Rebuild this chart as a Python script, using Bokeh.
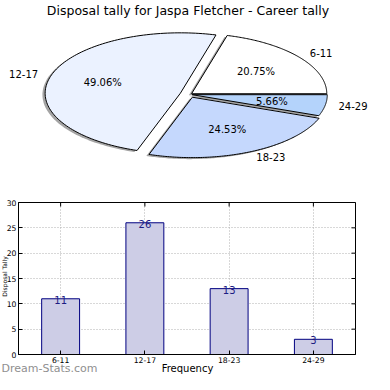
import numpy as np
from bokeh.plotting import figure
from bokeh.models import Range1d, Label, FixedTicker, ColumnDataSource
from bokeh.layouts import column
from bokeh.embed import file_html
from bokeh.resources import INLINE
from bokeh.core.properties import value

# ---------------- data ----------------
categories = ["6-11", "12-17", "18-23", "24-29"]
counts = [11, 26, 13, 3]
pie_colors = ["#ffffff", "#ebf2ff", "#c5d8fd", "#b4d3fb"]
explode = [0.02, 0.07, 0.05, 0.02]
title_text = "Disposal tally for Jaspa Fletcher - Career tally"
y_ticks = [0, 5, 10, 15, 20, 25, 30]
watermark = "Dream-Stats.com"
x_label = "Frequency"
y_label = "Disposal Tally"

# ---------------- layout constants ----------------
S = 374 / 390.0           # scale from the 390px reference to the 374px canvas
W = 374
PIE_H = 192
BAR_H = W - PIE_H
OV_H = 140                # transparent overlay strip at the bottom for titles
RX, RY = 141.0 * S, 63.0 * S     # px per unit radius (pie on stretched axes)
CX, CY = 197.0 * S, 98.0 * S     # pie centre in px from top-left of pie figure
FONT = value("DejaVu Sans")
BL, BR, BT, BB = 18, 19, 10, 20  # bar-chart borders


def blank(width, height):
    f = figure(width=width, height=height, output_backend="svg", toolbar_location=None,
               x_axis_location=None, y_axis_location=None, min_border=0)
    f.grid.visible = False
    f.outline_line_color = None
    f.frame_align = False
    return f


# ---------------- pie ----------------
pie = blank(W, PIE_H)
pie.x_range = Range1d(-CX / RX, (W - CX) / RX)
pie.y_range = Range1d(-(PIE_H - CY) / RY, CY / RY)

total = float(sum(counts))
fracs = np.array(counts) / total
edges = np.concatenate([[0.0], np.cumsum(fracs)]) * 2 * np.pi

xs, ys, shx, shy = [], [], [], []
lab_x, lab_y, lab_align = [], [], []
pct_x, pct_y, pct_text = [], [], []
for i in range(len(counts)):
    t = np.linspace(edges[i], edges[i + 1], 120)
    mid = 0.5 * (edges[i] + edges[i + 1])
    ox, oy = explode[i] * np.cos(mid), explode[i] * np.sin(mid)
    px = np.concatenate([[ox], ox + np.cos(t), [ox]])
    py = np.concatenate([[oy], oy + np.sin(t), [oy]])
    xs.append(list(px)); ys.append(list(py))
    shx.append(list(px - 0.02)); shy.append(list(py - 0.025))
    lx = (1.1 + explode[i]) * np.cos(mid)
    ly = (1.1 + explode[i]) * np.sin(mid)
    lab_x.append(lx); lab_y.append(ly)
    lab_align.append("left" if lx > 0 else "right")
    pct_x.append((0.6 + explode[i]) * np.cos(mid))
    pct_y.append((0.6 + explode[i]) * np.sin(mid))
    pct_text.append(f"{fracs[i] * 100:.2f}%")

pie.patches(xs=shx, ys=shy, fill_color="#4a4a4a", fill_alpha=0.5, line_color=None)
pie.patches(xs=xs, ys=ys, fill_color=pie_colors, line_color="black", line_width=1)

pie.text(x=lab_x, y=lab_y, text=categories, text_align=lab_align,
         text_baseline="middle", text_font=FONT, text_font_size="10px",
         text_color="black")
pie.text(x=pct_x, y=pct_y, text=pct_text, text_align="center",
         text_baseline="middle", text_font=FONT, text_font_size="10px",
         text_color="black")

pie.add_layout(Label(x=W / 2 + 0.5, y=PIE_H - 10.5 * S, x_units="screen", y_units="screen",
                     text=title_text, text_align="center", text_baseline="middle",
                     text_font="DejaVu Sans", text_font_size="12.5px",
                     text_color="black"))

# ---------------- bars ----------------
xpos = list(range(len(categories)))
bar = figure(width=W, height=BAR_H, output_backend="svg", toolbar_location=None,
             x_range=Range1d(-0.5, 3.5), y_range=Range1d(y_ticks[0], y_ticks[-1]),
             min_border_left=BL, min_border_right=BR,
             min_border_top=BT, min_border_bottom=BB)
bar.frame_align = False
bar.outline_line_color = "black"
bar.outline_line_width = 1

src = ColumnDataSource(dict(x=xpos, top=counts, lab=[str(c) for c in counts]))
bar.vbar(x="x", top="top", width=0.45, source=src, fill_color="#cdcde6",
         line_color="#000080", line_width=1)
bar.text(x="x", y="top", text="lab", source=src, text_align="center",
         text_baseline="alphabetic", text_font=FONT, text_font_size="10px",
         text_color="#1c1c82", y_offset=1)

for g in (bar.xgrid, bar.ygrid):
    g.grid_line_color = "#b0b0b0"
    g.grid_line_dash = "1 2"
    g.grid_line_width = 1
bar.xgrid.ticker = FixedTicker(ticks=xpos)
bar.ygrid.ticker = FixedTicker(ticks=y_ticks)

for ax in (bar.xaxis[0], bar.yaxis[0]):
    ax.axis_line_color = "black"
    ax.major_tick_in = 4
    ax.major_tick_out = 0
    ax.minor_tick_line_color = None
    ax.major_tick_line_color = "black"
    ax.major_label_text_font = "DejaVu Sans"
    ax.major_label_text_font_size = "7.7px"
    ax.major_label_standoff = 2
    ax.major_label_text_color = "black"
bar.yaxis[0].ticker = FixedTicker(ticks=y_ticks)
bar.xaxis[0].ticker = FixedTicker(ticks=xpos)
bar.xaxis[0].major_label_overrides = {i: c for i, c in enumerate(categories)}

# inward ticks on the top and right edges of the frame
bar.scatter(x=xpos, y=[y_ticks[-1]] * len(xpos), marker="dash", size=8,
            angle=np.pi / 2, line_color="black", line_width=1)
bar.scatter(x=[3.5] * len(y_ticks), y=y_ticks, marker="dash", size=8,
            line_color="black", line_width=1)

# ---------------- transparent overlay for titles and watermark ----------------
over = blank(W, OV_H)
over.margin = (-OV_H, 0, 0, 0)
over.background_fill_color = None
over.border_fill_color = None
over.add_layout(Label(x=3.5, y=W - 276, x_units="screen", y_units="screen",
                      text=y_label, text_align="center", text_baseline="middle",
                      angle=np.pi / 2, text_font="DejaVu Sans", text_font_size="6px",
                      text_color="black"))
over.add_layout(Label(x=1, y=6, x_units="screen", y_units="screen",
                      text=watermark, text_align="left", text_baseline="alphabetic",
                      text_font="DejaVu Sans", text_font_size="11px",
                      text_color="#8f8f8f"))
over.add_layout(Label(x=195 * S, y=1, x_units="screen", y_units="screen",
                      text=x_label, text_align="center", text_baseline="bottom",
                      text_font="DejaVu Sans", text_font_size="10px",
                      text_color="black"))

layout = column(pie, bar, over)
open("out.html", "w").write(file_html(layout, INLINE))
